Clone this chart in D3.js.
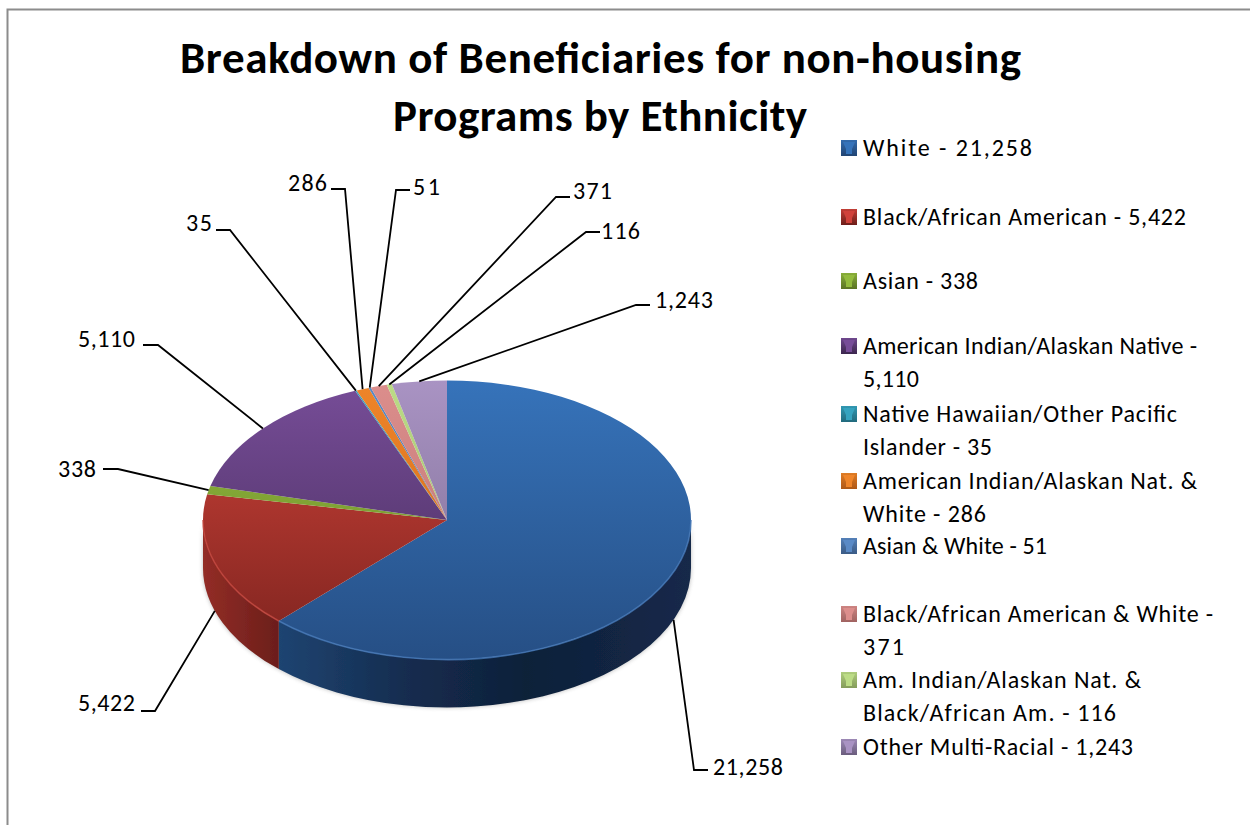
<!DOCTYPE html>
<html>
<head>
<meta charset="utf-8">
<script src="https://cdn.jsdelivr.net/npm/d3@7"></script>
<style>
html, body { margin: 0; padding: 0; background: #fff; }
svg { display: block; }
text { font-family: Carlito, Calibri, Lato, sans-serif; fill: #000; }
</style>
</head>
<body>
<svg id="chart" width="1250" height="825"></svg>
<script>
// Beneficiary counts by ethnicity
const ethnicities = [
  "White", "Black/African American", "Asian", "American Indian/Alaskan Native",
  "Native Hawaiian/Other Pacific Islander", "American Indian/Alaskan Nat. & White",
  "Asian & White", "Black/African American & White",
  "Am. Indian/Alaskan Nat. & Black/African Am.", "Other Multi-Racial"
];
const beneficiaries = [21258, 5422, 338, 5110, 35, 286, 51, 371, 116, 1243];

// Legend entries as wrapped lines, each with its set width
const legendLines = [
  [["White - 21,258", 169]],
  [["Black/African American - 5,422", 323]],
  [["Asian - 338", 115]],
  [["American Indian/Alaskan Native -", 334], ["5,110", 56]],
  [["Native Hawaiian/Other Pacific", 314], ["Islander - 35", 129]],
  [["American Indian/Alaskan Nat. &", 334], ["White - 286", 123]],
  [["Asian & White - 51", 184]],
  [["Black/African American & White -", 350], ["371", 41]],
  [["Am. Indian/Alaskan Nat. &", 278], ["Black/African Am. - 116", 253]],
  [["Other Multi-Racial - 1,243", 270]]
];
const legendRowY = [148, 217, 281, 346, 414, 481, 546, 614, 680, 747];

// Slice shading: [top of disc, bottom of disc]
const sliceShades = [
  ["#3673ba", "#264f85"], ["#d0433a", "#7c231e"], ["#93bb3e", "#688529"],
  ["#774d98", "#452c5a"], ["#35a3bf", "#267a90"], ["#ef8529", "#c9661a"],
  ["#5a8ac6", "#43699a"], ["#dc8e8c", "#b87270"], ["#bcdc86", "#98b468"],
  ["#a993c3", "#7a6b90"]
];

// Callout layout: label position and width, elbow point, outer end, alignment
const callouts = [
  { text: [713, 775], width: 70, elbow: [694, 770], end: [708, 770] },
  { text: [78, 711], width: 57, elbow: [155, 711], end: [141, 711] },
  { text: [58, 477], width: 38, elbow: [118, 469], end: [103, 469] },
  { text: [78, 347], width: 57, elbow: [158, 345], end: [143, 345] },
  { text: [186, 231], width: 26, elbow: [230, 230], end: [216, 230] },
  { text: [288, 191], width: 39, elbow: [345, 189], end: [331, 189] },
  { text: [413, 195], width: 27, elbow: [396, 190], end: [410, 190] },
  { text: [573, 199], width: 39, elbow: [556, 197], end: [570, 197] },
  { text: [601, 239], width: 39, elbow: [586, 232], end: [600, 232] },
  { text: [655, 308], width: 58, elbow: [636, 305], end: [650, 305] }
];

const cx = 447, cy = 520, rx = 244, ry = 139.5, depth = 48;
const svg = d3.select("#chart");
const defs = svg.append("defs");
const fmt = d3.format(",");

// Frame of the chart area
svg.append("path")
  .attr("d", "M7.5,825V9.5H1250")
  .attr("fill", "none").attr("stroke", "#8c8c8c").attr("stroke-width", 2);

// Title
const titleLines = [
  ["Breakdown of Beneficiaries for non-housing", 180, 73, 841],
  ["Programs by Ethnicity", 393, 131, 414]
];
svg.selectAll("text.title").data(titleLines).join("text").attr("class", "title")
  .attr("x", d => d[1]).attr("y", d => d[2])
  .attr("textLength", d => d[3]).attr("lengthAdjust", "spacing")
  .attr("font-size", 45).attr("font-weight", 700)
  .text(d => d[0]);

// Gradients
sliceShades.forEach((s, i) => {
  const g = defs.append("linearGradient").attr("id", "top" + i)
    .attr("gradientUnits", "userSpaceOnUse")
    .attr("x1", 0).attr("x2", 0).attr("y1", -rx).attr("y2", rx);
  g.append("stop").attr("offset", 0).attr("stop-color", s[0]);
  g.append("stop").attr("offset", 1).attr("stop-color", s[1]);
  const m = defs.append("linearGradient").attr("id", "key" + i)
    .attr("x1", 0).attr("x2", 0).attr("y1", 0).attr("y2", 1);
  m.append("stop").attr("offset", 0).attr("stop-color", d3.color(s[0]).darker(0.2));
  m.append("stop").attr("offset", 1).attr("stop-color", d3.color(s[1]).darker(0.4));
});
const wallBlue = defs.append("linearGradient").attr("id", "wall0")
  .attr("gradientUnits", "userSpaceOnUse").attr("x1", 279).attr("x2", 691).attr("y1", 0).attr("y2", 0);
[[0, "#1f4471"], [0.3, "#142d50"], [0.6, "#0f2039"], [1, "#14294a"]].forEach(d =>
  wallBlue.append("stop").attr("offset", d[0]).attr("stop-color", d[1]));
const wallRed = defs.append("linearGradient").attr("id", "wall1")
  .attr("gradientUnits", "userSpaceOnUse").attr("x1", 203).attr("x2", 279).attr("y1", 0).attr("y2", 0);
[[0, "#932d26"], [1, "#6b1e1b"]].forEach(d =>
  wallRed.append("stop").attr("offset", d[0]).attr("stop-color", d[1]));

const soft = defs.append("filter").attr("id", "soft")
  .attr("x", "-5%").attr("y", "-5%").attr("width", "110%").attr("height", "110%");
soft.append("feGaussianBlur").attr("stdDeviation", 0.7);
const keySoft = defs.append("filter").attr("id", "keySoft")
  .attr("x", "-20%").attr("y", "-20%").attr("width", "140%").attr("height", "140%");
keySoft.append("feGaussianBlur").attr("stdDeviation", 0.6);
const shadow = defs.append("filter").attr("id", "shadow")
  .attr("x", "-5%").attr("y", "-10%").attr("width", "110%").attr("height", "120%");
shadow.append("feGaussianBlur").attr("stdDeviation", 2);

// Pie layout, clockwise from twelve o'clock
const pie = d3.pie().sort(null).startAngle(0).endAngle(2 * Math.PI);
const arcs = pie(beneficiaries);
const arc = d3.arc().innerRadius(0).outerRadius(rx);
const onRim = a => [cx + rx * Math.sin(a), cy - ry * Math.cos(a)];

// Front wall of the disc, for the part of each slice facing the viewer
function wallPath(a0, a1) {
  const s = Math.max(a0, Math.PI / 2), e = Math.min(a1, 3 * Math.PI / 2);
  if (e <= s) return null;
  const p0 = onRim(s), p1 = onRim(e);
  return `M${p0}A${rx},${ry} 0 0 1 ${p1}L${p1[0]},${p1[1] + depth}` +
         `A${rx},${ry} 0 0 0 ${p0[0]},${p0[1] + depth}Z`;
}
const walls = arcs.map((d, i) => ({ i, d: wallPath(d.startAngle, d.endAngle) })).filter(w => w.d);

// Soft drop shadow hugging the wall
svg.append("path")
  .attr("d", wallPath(Math.PI / 2, 3 * Math.PI / 2))
  .attr("fill", "#555").attr("opacity", 0.4).attr("filter", "url(#shadow)");

svg.append("g").attr("filter", "url(#soft)").selectAll("path").data(walls).join("path")
  .attr("d", w => w.d)
  .attr("fill", w => `url(#wall${w.i})`);

// Top face of the disc
const disc = svg.append("g").attr("transform", `translate(${cx},${cy}) scale(1,${ry / rx})`);
disc.selectAll("path").data(arcs).join("path")
  .attr("d", arc)
  .attr("fill", (d, i) => `url(#top${i})`);

// Lit rim along the front edge of the disc
const rimShades = ["#4578b8", "#c2443b"];
const rimG = svg.append("g").attr("filter", "url(#soft)");
walls.forEach(w => {
  const a = arcs[w.i];
  const s = Math.max(a.startAngle, Math.PI / 2), e = Math.min(a.endAngle, 3 * Math.PI / 2);
  const p0 = onRim(s), p1 = onRim(e);
  rimG.append("path").attr("d", `M${p0}A${rx},${ry} 0 0 1 ${p1}`)
    .attr("fill", "none").attr("stroke", rimShades[w.i]).attr("stroke-width", 1.6).attr("opacity", 0.8);
});

// Leader lines, starting at each slice's mid-angle on the visible rim
const callG = svg.append("g");
callG.selectAll("path").data(arcs).join("path")
  .attr("d", (d, i) => {
    const mid = (d.startAngle + d.endAngle) / 2;
    const p = onRim(mid);
    if (Math.cos(mid) < 0) p[1] += depth;
    const c = callouts[i];
    return d3.line()([p, c.elbow, c.end]);
  })
  .attr("fill", "none").attr("stroke", "#000").attr("stroke-width", 1.8);

callG.selectAll("text").data(arcs).join("text")
  .attr("x", (d, i) => callouts[i].text[0])
  .attr("y", (d, i) => callouts[i].text[1])
  .attr("textLength", (d, i) => callouts[i].width).attr("lengthAdjust", "spacing")
  .attr("font-size", 24)
  .text(d => fmt(d.value));

// Legend
const legend = svg.append("g");
const rows = legend.selectAll("g").data(legendLines).join("g")
  .attr("transform", (d, i) => `translate(841,${legendRowY[i]})`);
const keys = rows.append("g").attr("filter", "url(#keySoft)");
keys.append("rect").attr("x", 0).attr("y", -8).attr("width", 16).attr("height", 16)
  .attr("fill", (d, i) => `url(#key${i})`);
keys.append("path").attr("d", "M2,-6H14L11,1V6H5V1Z")
  .attr("fill", (d, i) => sliceShades[i][0]);
rows.selectAll("text").data(d => d).join("text")
  .attr("x", 22).attr("y", (d, i) => 8 + i * 33)
  .attr("textLength", d => d[1]).attr("lengthAdjust", "spacing")
  .attr("font-size", 24)
  .text(d => d[0]);
</script>
</body>
</html>
